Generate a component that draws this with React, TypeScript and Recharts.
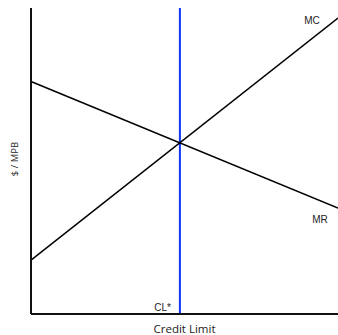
import React from 'react';
import {
  ComposedChart,
  Line,
  XAxis,
  YAxis,
  ReferenceLine,
  Label,
} from 'recharts';

// credit limit on x (0-100), $ / MPB on y (0-100)
const mrPoints = [
  { x: 0, y: 76 },
  { x: 100, y: 34.6 },
];
const mcPoints = [
  { x: 0, y: 17.6 },
  { x: 100, y: 96.7 },
];
const optimalCL = 48.5;

const curveNames = { mr: 'MR', mc: 'MC' };

const labelFont = 'Open Sans, sans-serif';
const curveFont = 'Liberation Sans, Arial, sans-serif';

// text near the right-hand end of a curve
const endLabel =
  (text: string, dx: number, dy: number, lastIndex: number) =>
  // eslint-disable-next-line @typescript-eslint/no-explicit-any
  (props: any) => {
    if (props.index !== lastIndex) return null;
    return (
      <text
        x={props.x + dx}
        y={props.y + dy}
        textAnchor="middle"
        dominantBaseline="central"
        fontSize={10}
        fontFamily={curveFont}
        fill="#222"
      >
        {text}
      </text>
    );
  };

export default function App() {
  return (
    <div style={{ position: 'absolute', left: 0, top: 0, background: '#fff' }}>
      <ComposedChart
        width={338}
        height={335}
        margin={{ top: 8, right: 0, left: 0, bottom: 0 }}
      >
        <XAxis
          type="number"
          dataKey="x"
          domain={[0, 100]}
          height={21}
          tick={false}
          tickLine={false}
          axisLine={{ stroke: '#111', strokeWidth: 2 }}
        >
          <Label
            value="Credit Limit"
            position="insideTop"
            offset={11}
            fontSize={11.5}
            fontFamily={labelFont}
            fill="#222"
          />
        </XAxis>
        <YAxis
          type="number"
          dataKey="y"
          domain={[0, 100]}
          width={31}
          tick={false}
          tickLine={false}
          axisLine={{ stroke: '#111', strokeWidth: 2 }}
        >
          <Label
            value="$ / MPB"
            angle={-90}
            position="insideLeft"
            offset={15}
            dy={-2}
            fontSize={9.5}
            fontFamily={labelFont}
            fill="#222"
            style={{ textAnchor: 'middle' }}
          />
        </YAxis>
        <ReferenceLine x={optimalCL} stroke="#1033f5" strokeWidth={2}>
          <Label
            value="CL*"
            position="insideBottomRight"
            offset={0}
            dx={-9}
            dy={-3}
            fontSize={10}
            fontFamily={curveFont}
            fill="#222"
          />
        </ReferenceLine>
        <Line
          data={mrPoints}
          dataKey="y"
          stroke="#000"
          strokeWidth={1.5}
          dot={false}
          isAnimationActive={false}
          label={endLabel(curveNames.mr, -18, 11, mrPoints.length - 1)}
        />
        <Line
          data={mcPoints}
          dataKey="y"
          stroke="#000"
          strokeWidth={1.5}
          dot={false}
          isAnimationActive={false}
          label={endLabel(curveNames.mc, -26, 2, mcPoints.length - 1)}
        />
      </ComposedChart>
    </div>
  );
}
